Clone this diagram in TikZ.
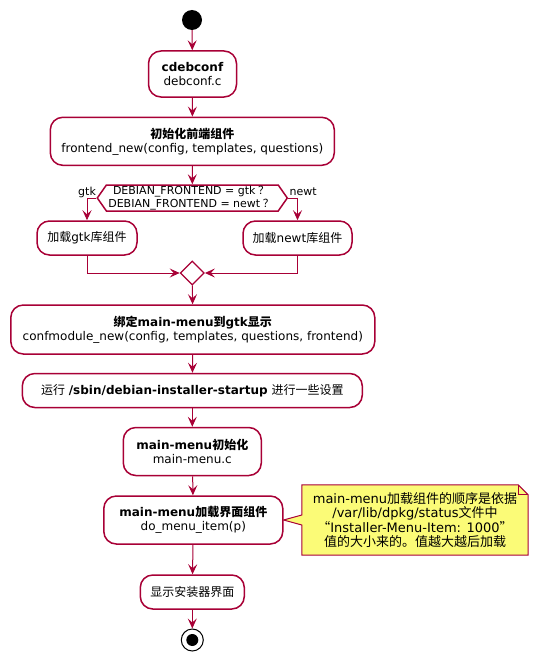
\documentclass[tikz,border=0pt]{standalone}
\usepackage{fontspec}
\setmainfont{DejaVu Sans}
\newfontfamily\cjk{Noto Sans CJK SC}
\newcommand{\zh}[1]{{\cjk #1}}
\newcommand{\fwq}{\kern2.5pt\zh{？}\kern2.5pt}
\usetikzlibrary{arrows.meta,shapes.geometric,shapes.symbols,backgrounds}
\definecolor{umlred}{HTML}{A80036}
\definecolor{notebg}{HTML}{FBFB77}

\begin{document}
\begin{tikzpicture}[x=1pt,y=-1pt,
    act/.style={draw=umlred, line width=1.5pt, fill=white, rounded corners=12.5pt,
        align=center, inner sep=0pt, font=\fontsize{12}{14}\selectfont},
    choice/.style={shape=signal, signal to=east and west, signal pointer angle=110,
        draw=umlred, line width=1.5pt, fill=white, align=center, inner sep=0pt,
        font=\fontsize{11}{12.5}\selectfont},
    merge/.style={diamond, draw=umlred, line width=1.2pt, fill=white,
        minimum size=24pt, inner sep=0pt},
    lbl/.style={inner sep=0pt, font=\fontsize{11}{13}\selectfont},
    notetext/.style={align=center, inner sep=0pt, font=\fontsize{13}{14.5}\selectfont},
    startdot/.style={circle, fill=black, minimum size=20pt, inner sep=0pt},
    stopring/.style={circle, draw=black, line width=1pt, fill=white, minimum size=22pt, inner sep=0pt},
    stopdot/.style={circle, fill=black, minimum size=12pt, inner sep=0pt},
    flow/.style={draw=umlred, line width=1pt, -{Stealth[length=10pt,width=9pt,inset=4pt]}}]
    \useasboundingbox (0,0) rectangle (537,661);

    \node[startdot] (start) at (192,20) {};
    \node[act, minimum width=88, minimum height=46] (debconf) at (192.5,74) {\textbf{cdebconf}\\debconf.c};
    \node[act, minimum width=284, minimum height=48] (frontend) at (192.3,141.3)
        {\textbf{\zh{初始化前端组件}}\\frontend\_new(config, templates, questions)};
    \node[choice, minimum width=190, minimum height=26] (ask) at (192.3,198)
        {DEBIAN\_FRONTEND = gtk\fwq\\DEBIAN\_FRONTEND = newt\fwq};
    \node[act, minimum width=100, minimum height=34] (gtk) at (87,238) {\zh{加载}gtk\zh{库组件}};
    \node[act, minimum width=109, minimum height=34] (newt) at (297.5,238) {\zh{加载}newt\zh{库组件}};
    \node[merge] (join) at (192.3,273) {};
    \node[act, minimum width=364, minimum height=49] (bind) at (192.8,329.5)
        {\textbf{\zh{绑定}main-menu\zh{到}gtk\zh{显示}}\\confmodule\_new(config, templates, questions, frontend)};
    \node[act, minimum width=340, minimum height=34] (startup) at (192.3,390.5)
        {\zh{运行} \textbf{/sbin/debian-installer-startup} \zh{进行一些设置}};
    \node[act, minimum width=138, minimum height=48] (mminit) at (192.3,451.5)
        {\textbf{main-menu\zh{初始化}}\\main-menu.c};
    \node[act, minimum width=179, minimum height=48] (mmload) at (193.3,520)
        {\textbf{main-menu\zh{加载界面组件}}\\do\_menu\_item(p)};
    \node[notetext, minimum width=226, minimum height=70] (note) at (415,520)
        {main-menu\zh{加载组件的顺序是依据}\\/var/lib/dpkg/status\zh{文件中}\\\zh{“}Installer-Menu-Item: 1000\zh{”}\\\zh{值的大小来的。值越大越后加载}};
    \node[act, minimum width=104, minimum height=34] (show) at (192.3,592) {\zh{显示安装器界面}};
    \node[stopring] (stop) at (192.3,640) {};
    \node[stopdot] (stopcore) at (stop) {};

    \begin{pgfonlayer}{background}
        \draw[draw=umlred, fill=notebg, line width=1pt] (note.north west) -- ([xshift=-10pt]note.north east)
            -- ([yshift=-10pt]note.north east) -- (note.south east) -- (note.south west)
            -- ([yshift=-5pt]note.west) -- (mmload.east) -- ([yshift=5pt]note.west) -- cycle;
        \draw[draw=umlred, line width=1pt] ([xshift=-10pt]note.north east) |- ([yshift=-10pt]note.north east);
    \end{pgfonlayer}

    \draw[flow] (start) -- (debconf);
    \draw[flow] (debconf) -- (frontend);
    \draw[flow] (frontend) -- (ask);
    \draw[flow] (ask.west) node[lbl, anchor=base east, yshift=2.3pt] (gtklbl) {gtk} -| (gtk);
    \draw[flow] (ask.east) node[lbl, anchor=base west, yshift=2.3pt, xshift=1pt] (newtlbl) {newt} -| (newt);
    \draw[flow] (gtk) |- (join);
    \draw[flow] (newt) |- (join);
    \draw[flow] (join) -- (bind);
    \draw[flow] (bind) -- (startup);
    \draw[flow] (startup) -- (mminit);
    \draw[flow] (mminit) -- (mmload);
    \draw[flow] (mmload) -- (show);
    \draw[flow] (show) -- (stop);
\end{tikzpicture}
\end{document}
